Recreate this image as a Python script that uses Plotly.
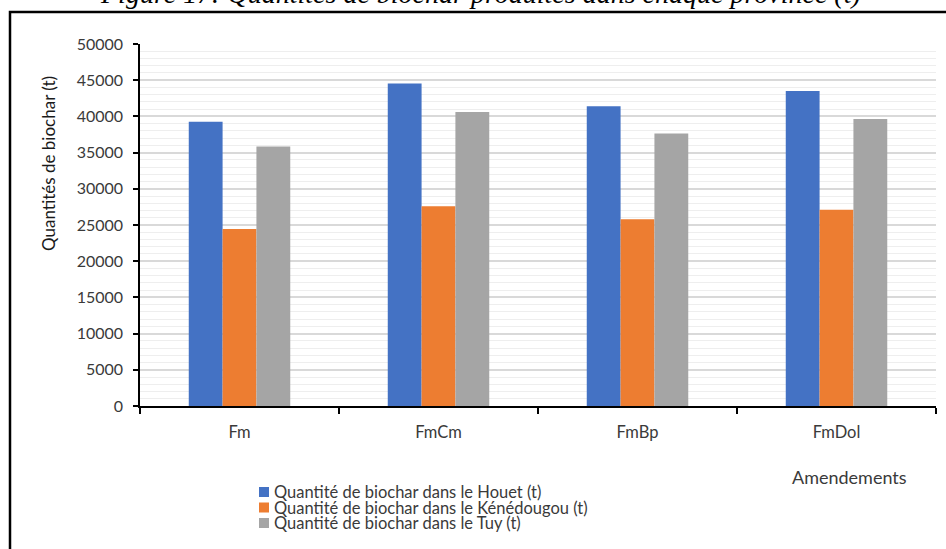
import plotly.graph_objects as go

categories = ["Fm", "FmCm", "FmBp", "FmDol"]
houet = [39250, 44550, 41400, 43500]
kenedougou = [24450, 27600, 25800, 27100]
tuy = [35850, 40600, 37650, 39650]
series_names = [
    "Quantité de biochar dans le Houet (t)",
    "Quantité de biochar dans le Kénédougou (t)",
    "Quantité de biochar dans le Tuy (t)",
]
colors = ["#4472C4", "#ED7D31", "#A5A5A5"]
ytick_vals = [0, 5000, 10000, 15000, 20000, 25000, 30000, 35000, 40000, 45000, 50000]

W, H = 946, 549
L, R, T, B = 140, 10, 44, 143
pw, ph = W - L - R, H - T - B

def px(x):
    return (x - L) / pw

def py(y):
    return (H - B - y) / ph

font = "Lato, 'Open Sans', sans-serif"
txt = "#3A3A3A"

fig = go.Figure()
for name, vals, c in zip(series_names, [houet, kenedougou, tuy], colors):
    fig.add_trace(go.Bar(x=categories, y=vals, name=name, marker_color=c,
                         marker_line_width=0, showlegend=False))

fig.update_layout(
    width=W, height=H,
    margin=dict(l=L, r=R, t=T, b=B, autoexpand=False),
    paper_bgcolor="white", plot_bgcolor="white",
    barmode="group", bargap=0.49, bargroupgap=0,
    font=dict(family=font, size=16, color=txt),
    showlegend=False,
    xaxis=dict(showline=True, linecolor="black", linewidth=1.5, tickson="boundaries",
               ticks="outside", ticklen=6, tickcolor="black", tickwidth=1.5,
               ticklabelstandoff=10, tickfont=dict(size=16.5, color=txt),
               showgrid=False, zeroline=False, automargin=False),
    yaxis=dict(range=[0, 50000], tickvals=ytick_vals, ticktext=[str(v) for v in ytick_vals],
               showline=True, linecolor="black", linewidth=1.5, ticks="outside", ticklen=5,
               tickcolor="black", tickwidth=1.5, tickfont=dict(size=16, color=txt),
               ticklabelstandoff=7,
               showgrid=True, gridcolor="#D9D9D9", gridwidth=1.5, zeroline=False, automargin=False,
               minor=dict(dtick=1000, tick0=0, showgrid=True, gridcolor="#EEEEEE", gridwidth=1, ticks="")),
)

# legend (custom, Excel-like compact spacing)
for i, (name, c) in enumerate(zip(series_names, colors)):
    yc = 492 + 15.5 * i
    fig.add_shape(type="rect", xref="paper", yref="paper",
                  x0=px(259), x1=px(269), y0=py(yc + 5), y1=py(yc - 5),
                  line=dict(width=0), fillcolor=c)
    fig.add_annotation(text=name, xref="paper", yref="paper", x=px(272), y=py(yc),
                       xanchor="left", yanchor="middle", showarrow=False,
                       font=dict(size=16.5, color=txt, family=font))

fig.add_annotation(text="Quantités de biochar (t)", xref="paper", yref="paper",
                   x=px(48), y=py(164), xanchor="center", yanchor="middle",
                   textangle=-90, showarrow=False,
                   font=dict(size=17, color="#1A1A1A", family=font))
fig.add_annotation(text="Amendements", xref="paper", yref="paper",
                   x=px(909), y=py(477), xanchor="right", yanchor="middle", showarrow=False,
                   font=dict(size=18, color=txt, family=font))
fig.add_annotation(text="<i>Figure 17: Quantités de biochar produites dans chaque province (t)</i>",
                   xref="paper", yref="paper", x=px(480), y=py(11), xanchor="center", yanchor="bottom",
                   showarrow=False, font=dict(size=28, color="#000000", family="'Liberation Serif', serif"))

fig.add_shape(type="rect", xref="paper", yref="paper",
              x0=px(10), x1=px(960), y0=py(570), y1=py(12),
              line=dict(color="black", width=2.5), fillcolor="rgba(0,0,0,0)", layer="above")

fig.write_html("out.html", config={"displayModeBar": False},
               post_script="document.body.style.margin='0px';")
